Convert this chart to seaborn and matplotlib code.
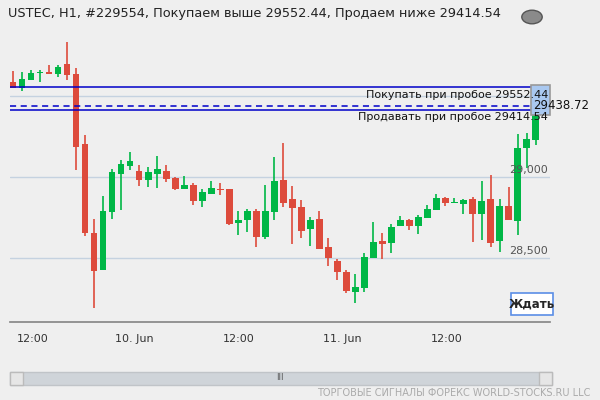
import matplotlib
matplotlib.use("Agg")
import matplotlib.pyplot as plt
import seaborn as sns
import numpy as np
from matplotlib.patches import Rectangle, Circle

sns.set_theme(style="white")
plt.rcParams['font.family'] = ['DejaVu Sans']

opens = [29586,29551,29601,29640,29646,29638,29698,29636,29204,28654,28428,28786,29020,29070,29037,28983,29020,29037,28994,28928,
         28951,28854,28897,28926,28926,28718,28736,28788,28631,28786,28981,28864,28815,28677,28741,28568,28480,28412,28292,28317,
         28502,28603,28594,28696,28735,28699,28749,28798,28869,28838,28835,28862,28770,28862,28607,28819,28727,29177,29230,29420]
closes = [29551,29605,29642,29646,29638,29679,29631,29187,28656,28422,28788,29031,29080,29099,28983,29031,29049,28990,28928,28951,
          28854,28907,28932,28922,28712,28735,28788,28631,28788,28975,28841,28810,28669,28733,28557,28502,28415,28298,28321,28506,
          28599,28588,28693,28735,28698,28753,28804,28869,28838,28838,28858,28770,28852,28594,28823,28733,29177,29233,29424,29439]
highs = [29654,29648,29661,29661,29691,29691,29833,29673,29259,28741,28883,29049,29105,29154,29074,29064,29130,29074,29002,29006,
         28963,28926,28975,28963,28926,28790,28802,28802,28951,29123,29210,28944,28858,28753,28792,28625,28494,28426,28401,28531,
         28724,28654,28712,28761,28741,28767,28825,28897,28875,28870,28866,28875,28977,29014,28864,28938,29264,29272,29537,29506]
lows = [29549,29533,29601,29586,29638,29619,29601,29045,28638,28191,28428,28743,28796,29045,28946,28940,28934,28971,28922,28928,
        28829,28817,28897,28891,28706,28644,28662,28570,28619,28736,28817,28588,28625,28576,28557,28452,28366,28286,28224,28292,
        28502,28496,28533,28696,28673,28650,28749,28798,28823,28838,28773,28601,28613,28570,28539,28733,28644,29054,29198,29383]

tick_pos = [2.2, 13.5, 25.0, 36.6, 48.1]
tick_labels = ["12:00", "10. Jun", "12:00", "11. Jun", "12:00"]
buy_level = 29552.44
sell_level = 29414.54
last_price = 29438.72
grid_levels = [28500, 29000, 29500]

BG = "#efefef"
RED = "#dd4b3c"
GREEN = "#00b746"

fig = plt.figure(figsize=(6, 4), dpi=100, facecolor=BG)
ax = fig.add_axes([10/600, 78/400, 540/600, 292/400], facecolor=BG)
ax.set_xlim(-0.33, 59.6)
ax.set_ylim(28105, 29907)

for g in grid_levels:
    ax.axhline(g, color="#c5d2e0", lw=1, zorder=1)

idx = np.arange(len(opens))
o = np.array(opens); c = np.array(closes)
cols = [GREEN if cc >= oo else RED for oo, cc in zip(o, c)]
ax.vlines(idx, lows, highs, colors=cols, lw=1.2, zorder=3)
h = np.abs(c - o)
h = np.where(h < 6, 6, h)
ax.bar(idx, h, bottom=np.minimum(o, c), width=0.75, color=cols, zorder=4, linewidth=0)

ax.axhline(buy_level, color="#0000c8", lw=1.1, zorder=5)
ax.axhline(sell_level, color="#0000c8", lw=1.1, zorder=5)
ax.axhline(last_price, color="#0000c8", lw=1.1, ls=(0, (4, 3)), zorder=5)

# price label box (behind texts)
ax.add_patch(Rectangle((57.5, 29385), 2.1, 185, facecolor="#a9c8f0", edgecolor="#999", lw=1.2, zorder=5.5, clip_on=False))

ax.text(59.4, buy_level - 15, "Покупать при пробое 29552.44", ha="right", va="top", fontsize=8, color="#111", zorder=8)
ax.text(59.4, sell_level - 15, "Продавать при пробое 29414.54", ha="right", va="top", fontsize=8, color="#111", zorder=8)

for g in [28500, 29000]:
    ax.text(59.4, g + 10, f"{g:,}", ha="right", va="bottom", fontsize=8, color="#555", zorder=6)

ax.text(57.7, last_price, "29438.72", ha="left", va="center", fontsize=8.5, color="#111", zorder=8, clip_on=False)

ax.set_xticks(tick_pos)
ax.set_xticklabels(tick_labels, fontsize=8, color="#333")
ax.tick_params(axis="x", length=5, color="#888", direction="out", pad=4)
ax.set_yticks([])
for s in ["top", "right", "left"]:
    ax.spines[s].set_visible(False)
ax.spines["bottom"].set_color("#888")

fig.text(8/600, 1 - 14/400, "USTEC, H1, #229554, Покупаем выше 29552.44, Продаем ниже 29414.54",
         fontsize=9.3, color="#222", va="center", ha="left")
fig.patches.append(Circle((532/600, 1 - 17/400), 0.017, transform=fig.transFigure, facecolor="#8a8a8a", edgecolor="#555"))

# wait button
fig.patches.append(Rectangle((511/600, 1 - 315/400), 42/600, 22/400, transform=fig.transFigure,
                             facecolor="white", edgecolor="#5b8ee6", lw=1.2))
fig.text(532/600, 1 - 304/400, "Ждать", fontsize=8.5, fontweight="bold", ha="center", va="center")

# scrollbar
fig.patches.append(Rectangle((10/600, 1 - 385/400), 542/600, 13/400, transform=fig.transFigure,
                             facecolor="#cfd4d9", edgecolor="#c0c4c8"))
for xx in [10, 539]:
    fig.patches.append(Rectangle((xx/600, 1 - 385/400), 13/600, 13/400, transform=fig.transFigure,
                                 facecolor="#e6e6e6", edgecolor="#bbb"))
fig.text(280/600, 1 - 378/400, "III", fontsize=6, ha="center", va="center", color="#555")
fig.text(590/600, 1 - 393/400, "ТОРГОВЫЕ СИГНАЛЫ ФОРЕКС WORLD-STOCKS.RU LLC", fontsize=7,
         ha="right", va="center", color="#aaaaaa")

fig.savefig("out.png", dpi=100, facecolor=BG)
